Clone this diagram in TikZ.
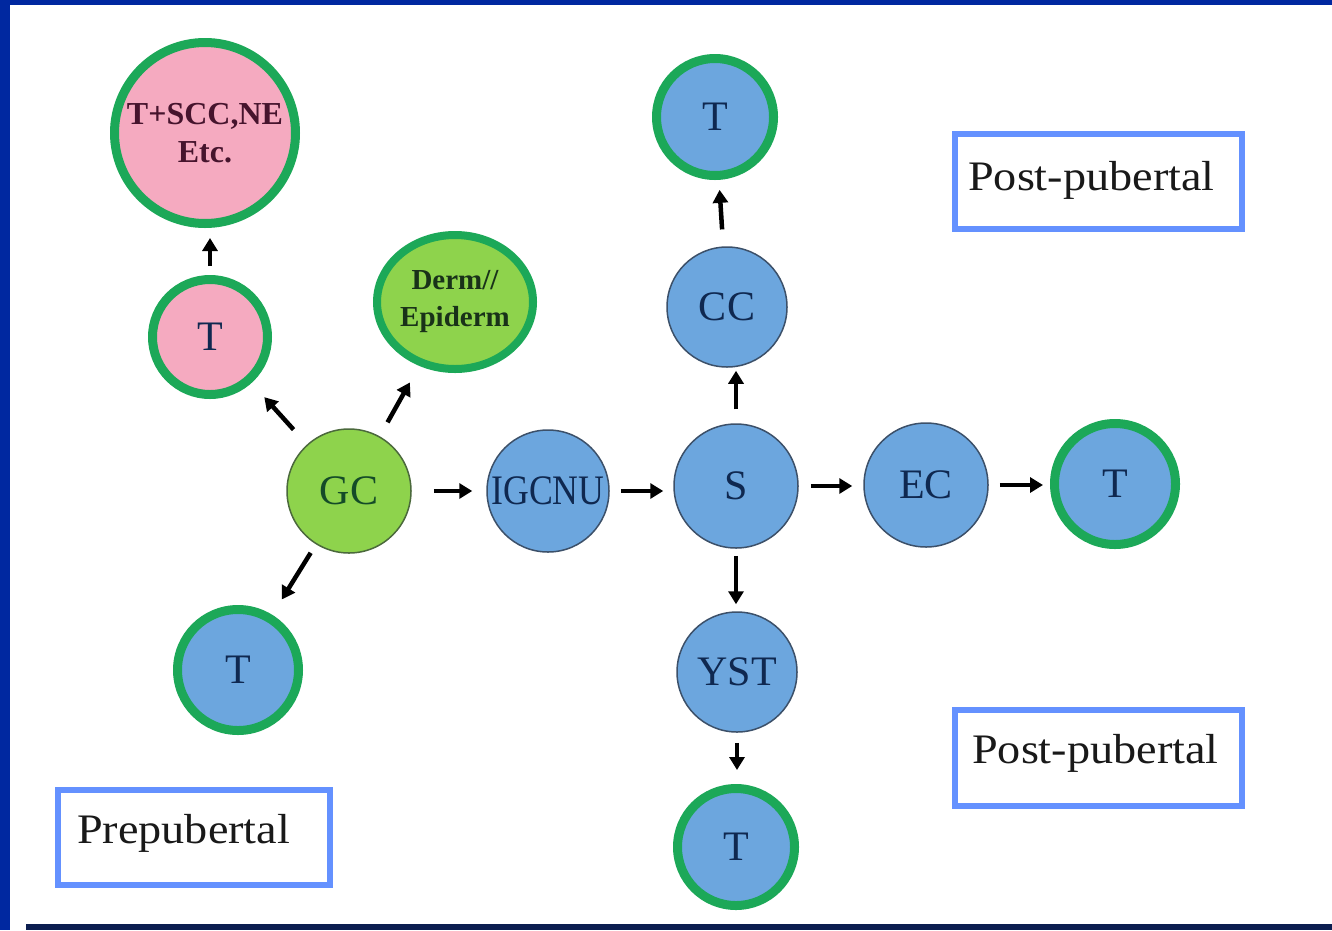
\documentclass[tikz,border=0pt]{standalone}
\usepackage{fontspec}
\usepackage{graphicx}
\setmainfont{Liberation Serif}
\usetikzlibrary{arrows.meta,shapes.geometric}
\definecolor{frameblue}{RGB}{0,40,160}
\definecolor{framedark}{RGB}{12,30,80}
\definecolor{ringgreen}{RGB}{28,168,88}
\definecolor{cellblue}{RGB}{108,166,222}
\definecolor{cellpink}{RGB}{245,170,192}
\definecolor{celllime}{RGB}{142,211,76}
\definecolor{thinedge}{RGB}{60,80,105}
\definecolor{limeedge}{RGB}{75,105,60}
\definecolor{navytext}{RGB}{15,40,80}
\definecolor{maroontext}{RGB}{70,20,45}
\definecolor{dermtext}{RGB}{25,50,25}
\definecolor{gctext}{RGB}{20,75,40}
\definecolor{boxblue}{RGB}{100,145,255}
\definecolor{boxtext}{RGB}{25,25,25}
\begin{document}
\begin{tikzpicture}[x=1pt,y=-1pt,
  greenring/.style={circle, draw=ringgreen, line width=9pt, inner sep=0pt, minimum size=#1},
  thinring/.style={circle, draw=thinedge, line width=1.5pt, fill=cellblue, inner sep=0pt, minimum size=#1,
     text=navytext, font=\fontsize{42}{42}\selectfont},
  bluecell/.style={greenring=#1, fill=cellblue, text=navytext, font=\fontsize{42}{42}\selectfont},
  pinkcell/.style={greenring=#1, fill=cellpink},
  infobox/.style={draw=boxblue, line width=6pt, fill=white, inner sep=0pt},
  boxlabel/.style={anchor=base west, inner sep=0pt, text=boxtext, font=\fontsize{42}{42}\selectfont},
  arr/.style={line width=4.5pt, -{Triangle[length=13pt,width=15pt]}}]
\useasboundingbox (0,0) rectangle (1332,930);
\fill[white] (0,0) rectangle (1332,930);
\fill[frameblue] (0,0) rectangle (10,930);
\fill[frameblue] (0,0) rectangle (1332,5);
\fill[framedark] (26,924) rectangle (1332,930);

% left branch
\node[pinkcell=181, text=maroontext, align=center, font=\bfseries\fontsize{32}{38}\selectfont] (tscc) at (205,133) {T+SCC,NE\\Etc.};
\node[pinkcell=115, text=navytext, font=\fontsize{42}{42}\selectfont] (tpink) at (210,337) {T};
\node[ellipse, draw=ringgreen, line width=8pt, fill=celllime, inner sep=0pt, minimum width=156, minimum height=134,
      text=dermtext, align=center, font=\bfseries\fontsize{29}{37}\selectfont] (derm) at (455,302) {Derm//\\Epiderm};
\node[thinring=124, fill=celllime, draw=limeedge, text=gctext] (gc) at (349,491) {GC};
\node[bluecell=121] (tbl) at (238,670) {T};

% main row
\node[thinring=122] (igcnu) at (548,491) {\scalebox{0.85}[1]{IGCNU}};
\node[thinring=124] (s) at (736,486) {S};
\node[thinring=124] (ec) at (926,485) {EC};
\node[bluecell=121] (tright) at (1115,484) {T};

% column
\node[thinring=120] (cc) at (727,307) {CC};
\node[bluecell=117] (ttop) at (715,117) {T};
\node[thinring=120] (yst) at (737,672) {YST};
\node[bluecell=117] (tbot) at (736,847) {T};

% arrows
\draw[arr, shorten <=9pt, shorten >=10pt] (tpink) -- (tpink |- tscc.south);
\draw[arr, shorten <=20pt, shorten >=19pt] (gc) -- (tpink);
\draw[arr, shorten <=16pt, shorten >=19pt] (gc) -- (derm);
\draw[arr, shorten <=10pt, shorten >=18pt] (gc) -- (tbl);
\draw[arr, shorten <=22pt, shorten >=14pt] (gc.east) -- (gc.east -| igcnu.west);
\draw[arr, shorten <=11pt, shorten >=10pt] (igcnu.east) -- (igcnu.east -| s.west);
\draw[arr, shorten <=12pt, shorten >=11pt] (s.east) -- (s.east -| ec.west);
\draw[arr, shorten <=11pt, shorten >=7pt] (ec.east) -- (ec.east -| tright.west);
\draw[arr, shorten <=14pt, shorten >=3pt] (s.north) -- (s.north |- cc.south);
\draw[arr, shorten <=17pt, shorten >=10pt] (cc) -- (ttop);
\draw[arr, shorten <=7pt, shorten >=7pt] (s.south) -- (s.south |- yst.north);
\draw[arr, shorten <=10pt, shorten >=14pt] (yst.south) -- (yst.south |- tbot.north);

% boxes
\node[infobox, minimum width=287, minimum height=95] (posttop) at (1098.5,181.5) {};
\node[boxlabel] (posttoptext) at (968,190) {\scalebox{1.1}[1]{Post-pubertal}};
\node[infobox, minimum width=287, minimum height=96] (postbot) at (1098.5,758) {};
\node[boxlabel] (postbottext) at (972,763) {\scalebox{1.1}[1]{Post-pubertal}};
\node[infobox, minimum width=272, minimum height=95] (prebox) at (194,837.5) {};
\node[boxlabel] (pretext) at (77,843) {\scalebox{1.1}[1]{Prepubertal}};
\end{tikzpicture}
\end{document}
